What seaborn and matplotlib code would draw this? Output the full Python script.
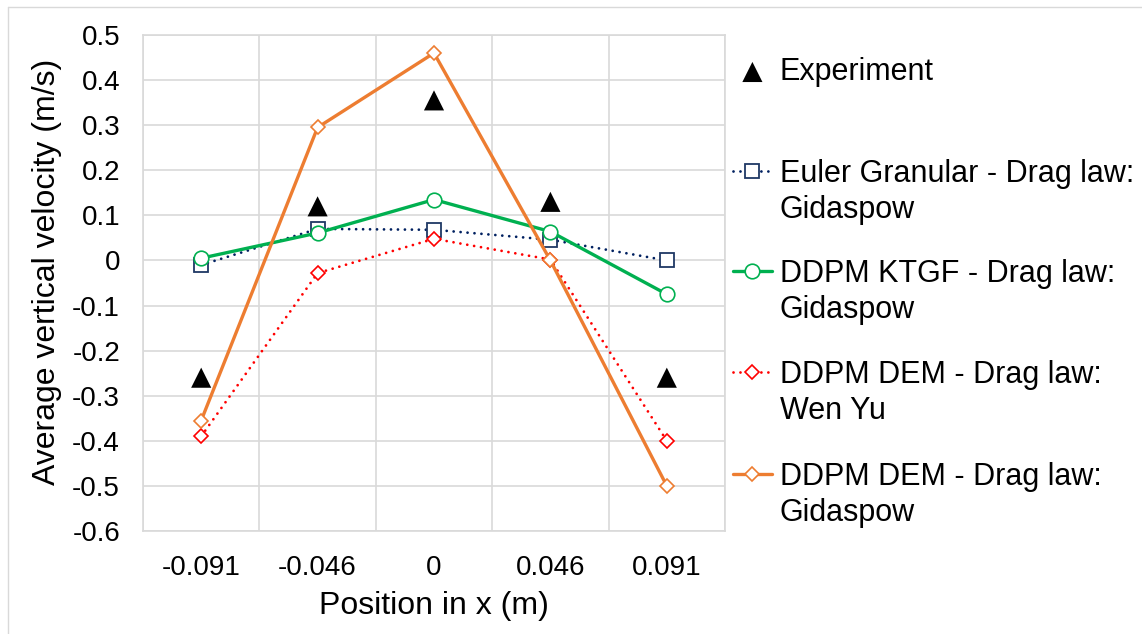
import numpy as np
import pandas as pd
import matplotlib
matplotlib.use("Agg")
import matplotlib.pyplot as plt
from matplotlib.lines import Line2D
import seaborn as sns

# Measurement positions across the bed (categorical axis)
positions = ["-0.091", "-0.046", "0", "0.046", "0.091"]

# Average vertical velocity (m/s) at each position
experiment = [-0.26, 0.12, 0.355, 0.13, -0.26]
euler_gidaspow = [-0.01, 0.07, 0.068, 0.046, 0.0]
ktgf_gidaspow = [0.005, 0.061, 0.135, 0.064, -0.075]
dem_wenyu = [-0.39, -0.028, 0.048, 0.002, -0.40]
dem_gidaspow = [-0.355, 0.295, 0.46, 0.0, -0.50]

y_ticks = [-0.6, -0.5, -0.4, -0.3, -0.2, -0.1, 0.0, 0.1, 0.2, 0.3, 0.4, 0.5]
y_tick_labels = ["-0.6", "-0.5", "-0.4", "-0.3", "-0.2", "-0.1", "0",
                 "0.1", "0.2", "0.3", "0.4", "0.5"]

legend_labels = [
    ["Experiment"],
    ["Euler Granular - Drag law:", "Gidaspow"],
    ["DDPM KTGF - Drag law:", "Gidaspow"],
    ["DDPM DEM - Drag law:", "Wen Yu"],
    ["DDPM DEM - Drag law:", "Gidaspow"],
]

df = pd.DataFrame({
    "idx": np.arange(len(positions)),
    "experiment": experiment,
    "euler": euler_gidaspow,
    "ktgf": ktgf_gidaspow,
    "wenyu": dem_wenyu,
    "demgid": dem_gidaspow,
})

sns.set_style("white")
plt.rcParams["font.family"] = ["Liberation Sans", "DejaVu Sans"]
plt.rcParams["text.color"] = "black"
plt.rcParams["axes.labelcolor"] = "black"

W, H = 1142, 634
fig = plt.figure(figsize=(W / 100, H / 100), dpi=100)
ax = fig.add_axes([143 / W, 1 - 531 / H, 582 / W, 496 / H])

grid_c = "#d9d9d9"
dotted = (0, (0.01, 2.5))

sns.scatterplot(data=df, x="idx", y="experiment", ax=ax, marker="^", s=210,
                color="black", edgecolor="none", legend=False, zorder=3)
h_exp = ax.collections[-1]

sns.lineplot(data=df, x="idx", y="euler", ax=ax, color="#002060", lw=2.0,
             linestyle=dotted, dash_capstyle="round", marker="s", markersize=10,
             markerfacecolor="white", markeredgecolor="#1f3864",
             markeredgewidth=1.3, legend=False, zorder=3)
h_euler = ax.lines[-1]

sns.lineplot(data=df, x="idx", y="ktgf", ax=ax, color="#00b050", lw=2.4,
             marker="o", markersize=10.5, markerfacecolor="white",
             markeredgecolor="#00b050", markeredgewidth=1.2, legend=False,
             zorder=3)
h_ktgf = ax.lines[-1]

sns.lineplot(data=df, x="idx", y="wenyu", ax=ax, color="#ff0000", lw=2.0,
             linestyle=dotted, dash_capstyle="round", marker="D", markersize=6.8,
             markerfacecolor="white", markeredgecolor="#ff0000",
             markeredgewidth=1.2, legend=False, zorder=3)
h_wenyu = ax.lines[-1]

sns.lineplot(data=df, x="idx", y="demgid", ax=ax, color="#ed7d31", lw=2.4,
             marker="D", markersize=6.8, markerfacecolor="white",
             markeredgecolor="#ed7d31", markeredgewidth=1.2, legend=False,
             zorder=3)
h_demgid = ax.lines[-1]

# Axes, ticks and grid
ax.set_xlim(-0.5, len(positions) - 0.5)
ax.set_ylim(-0.6, 0.5)
ax.set_xticks(np.arange(len(positions)))
ax.set_xticklabels(positions)
ax.set_xticks(np.arange(-0.5, len(positions), 1.0), minor=True)
ax.set_yticks(y_ticks)
ax.set_yticklabels(y_tick_labels)
ax.tick_params(axis="both", which="both", length=0, labelsize=20,
               colors="black")
ax.tick_params(axis="y", pad=16.5)
ax.tick_params(axis="x", pad=17)
ax.grid(False)
ax.xaxis.grid(True, which="minor", color=grid_c, lw=1.2)
ax.yaxis.grid(True, which="major", color=grid_c, lw=1.2)
ax.set_axisbelow(True)
for sp in ax.spines.values():
    sp.set_color(grid_c)
    sp.set_linewidth(1.2)

ax.set_xlabel("Position in x (m)", fontsize=23, color="black")
ax.set_ylabel("Average vertical velocity (m/s)", fontsize=23, color="black")
ax.xaxis.set_label_coords(0.5, -0.121)
ax.yaxis.set_label_coords(-0.139, 0.522)

# Legend: one block per series so the symbol sits on the first text line
blank = Line2D([], [], alpha=0)
handles = [h_exp, h_euler, h_ktgf, h_wenyu, h_demgid]
caps_y = [69, 171, 271, 372, 474]
for handle, lines, cy in zip(handles, legend_labels, caps_y):
    hs = [handle] + [blank] * (len(lines) - 1)
    top_px = cy - 12
    fig.legend(hs, lines, loc="upper left",
               bbox_to_anchor=(733 / W, 1 - top_px / H),
               bbox_transform=fig.transFigure, frameon=False, fontsize=22,
               borderpad=0, borderaxespad=0, handlelength=1.27,
               handletextpad=0.26, labelspacing=0.2, numpoints=1,
               scatterpoints=1, labelcolor="black")

# Chart frame
fig.add_artist(Line2D([8 / W, 1], [1 - 7 / H, 1 - 7 / H],
                      transform=fig.transFigure, color=grid_c, lw=1))
fig.add_artist(Line2D([8 / W, 8 / W], [0, 1 - 7 / H],
                      transform=fig.transFigure, color=grid_c, lw=1))

fig.savefig("out.png", dpi=100)
